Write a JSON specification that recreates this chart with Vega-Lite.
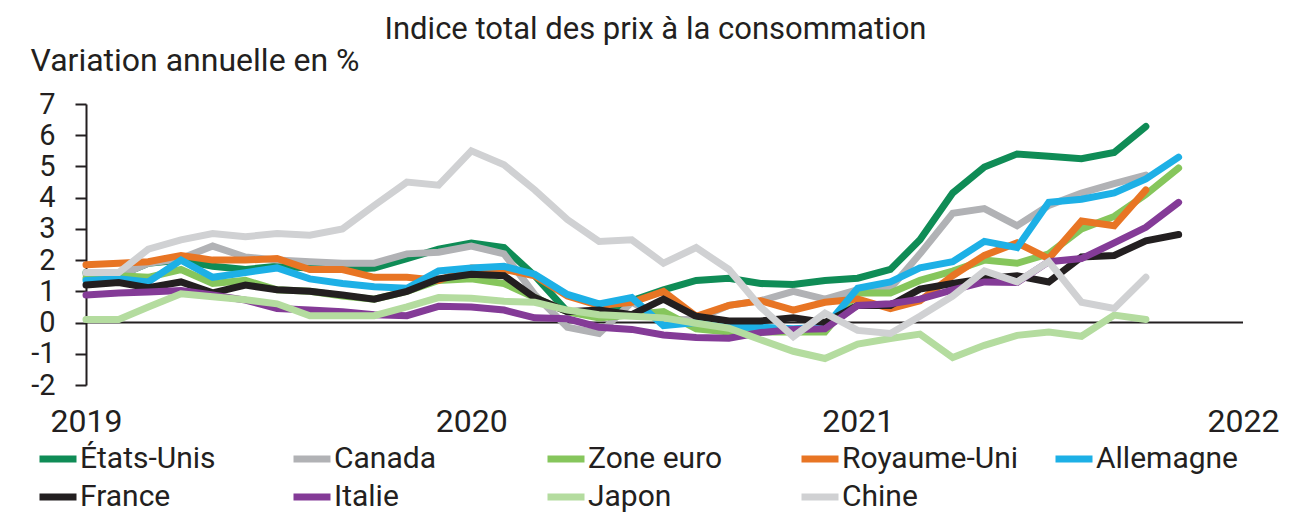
{
"$schema": "https://vega.github.io/schema/vega-lite/v6.json",
"width": 1157, "height": 281,
"autosize": {"type": "none"},
"padding": {"left": 86, "top": 104, "right": 55, "bottom": 127},
"background": "white",
"config": {"view": {"stroke": null}, "font": "Roboto, Liberation Sans, sans-serif"},
"title": {"text": "Indice total des prix à la consommation", "anchor": "middle", "frame": "group", "fontSize": 31, "fontWeight": "normal", "color": "#231f20", "dx": -9, "dy": 2, "offset": 0},
"datasets": {"cpi": [
{"d":"2019-01","c":"États-Unis","v":1.6},{"d":"2019-02","c":"États-Unis","v":1.5},{"d":"2019-03","c":"États-Unis","v":1.9},{"d":"2019-04","c":"États-Unis","v":2.0},{"d":"2019-05","c":"États-Unis","v":1.8},{"d":"2019-06","c":"États-Unis","v":1.7},{"d":"2019-07","c":"États-Unis","v":1.8},{"d":"2019-08","c":"États-Unis","v":1.75},{"d":"2019-09","c":"États-Unis","v":1.7},{"d":"2019-10","c":"États-Unis","v":1.75},{"d":"2019-11","c":"États-Unis","v":2.05},{"d":"2019-12","c":"États-Unis","v":2.35},{"d":"2020-01","c":"États-Unis","v":2.55},{"d":"2020-02","c":"États-Unis","v":2.4},{"d":"2020-03","c":"États-Unis","v":1.5},{"d":"2020-04","c":"États-Unis","v":0.35},{"d":"2020-05","c":"États-Unis","v":0.2},{"d":"2020-06","c":"États-Unis","v":0.7},{"d":"2020-07","c":"États-Unis","v":1.05},{"d":"2020-08","c":"États-Unis","v":1.35},{"d":"2020-09","c":"États-Unis","v":1.42},{"d":"2020-10","c":"États-Unis","v":1.25},{"d":"2020-11","c":"États-Unis","v":1.22},{"d":"2020-12","c":"États-Unis","v":1.35},{"d":"2021-01","c":"États-Unis","v":1.42},{"d":"2021-02","c":"États-Unis","v":1.7},{"d":"2021-03","c":"États-Unis","v":2.65},{"d":"2021-04","c":"États-Unis","v":4.15},{"d":"2021-05","c":"États-Unis","v":4.98},{"d":"2021-06","c":"États-Unis","v":5.4},{"d":"2021-07","c":"États-Unis","v":5.33},{"d":"2021-08","c":"États-Unis","v":5.25},{"d":"2021-09","c":"États-Unis","v":5.45},{"d":"2021-10","c":"États-Unis","v":6.28},
{"d":"2019-01","c":"Canada","v":1.55},{"d":"2019-02","c":"Canada","v":1.5},{"d":"2019-03","c":"Canada","v":1.9},{"d":"2019-04","c":"Canada","v":2.05},{"d":"2019-05","c":"Canada","v":2.45},{"d":"2019-06","c":"Canada","v":2.1},{"d":"2019-07","c":"Canada","v":2.0},{"d":"2019-08","c":"Canada","v":1.95},{"d":"2019-09","c":"Canada","v":1.9},{"d":"2019-10","c":"Canada","v":1.9},{"d":"2019-11","c":"Canada","v":2.2},{"d":"2019-12","c":"Canada","v":2.25},{"d":"2020-01","c":"Canada","v":2.45},{"d":"2020-02","c":"Canada","v":2.2},{"d":"2020-03","c":"Canada","v":0.9},{"d":"2020-04","c":"Canada","v":-0.15},{"d":"2020-05","c":"Canada","v":-0.35},{"d":"2020-06","c":"Canada","v":0.65},{"d":"2020-07","c":"Canada","v":0.1},{"d":"2020-08","c":"Canada","v":0.1},{"d":"2020-09","c":"Canada","v":0.55},{"d":"2020-10","c":"Canada","v":0.7},{"d":"2020-11","c":"Canada","v":1.0},{"d":"2020-12","c":"Canada","v":0.75},{"d":"2021-01","c":"Canada","v":1.05},{"d":"2021-02","c":"Canada","v":1.1},{"d":"2021-03","c":"Canada","v":2.2},{"d":"2021-04","c":"Canada","v":3.5},{"d":"2021-05","c":"Canada","v":3.65},{"d":"2021-06","c":"Canada","v":3.1},{"d":"2021-07","c":"Canada","v":3.75},{"d":"2021-08","c":"Canada","v":4.15},{"d":"2021-09","c":"Canada","v":4.45},{"d":"2021-10","c":"Canada","v":4.72},
{"d":"2019-01","c":"Zone euro","v":1.42},{"d":"2019-02","c":"Zone euro","v":1.5},{"d":"2019-03","c":"Zone euro","v":1.45},{"d":"2019-04","c":"Zone euro","v":1.7},{"d":"2019-05","c":"Zone euro","v":1.25},{"d":"2019-06","c":"Zone euro","v":1.35},{"d":"2019-07","c":"Zone euro","v":1.05},{"d":"2019-08","c":"Zone euro","v":1.0},{"d":"2019-09","c":"Zone euro","v":0.85},{"d":"2019-10","c":"Zone euro","v":0.75},{"d":"2019-11","c":"Zone euro","v":1.0},{"d":"2019-12","c":"Zone euro","v":1.35},{"d":"2020-01","c":"Zone euro","v":1.4},{"d":"2020-02","c":"Zone euro","v":1.25},{"d":"2020-03","c":"Zone euro","v":0.8},{"d":"2020-04","c":"Zone euro","v":0.35},{"d":"2020-05","c":"Zone euro","v":0.15},{"d":"2020-06","c":"Zone euro","v":0.25},{"d":"2020-07","c":"Zone euro","v":0.35},{"d":"2020-08","c":"Zone euro","v":-0.2},{"d":"2020-09","c":"Zone euro","v":-0.3},{"d":"2020-10","c":"Zone euro","v":-0.3},{"d":"2020-11","c":"Zone euro","v":-0.3},{"d":"2020-12","c":"Zone euro","v":-0.3},{"d":"2021-01","c":"Zone euro","v":0.95},{"d":"2021-02","c":"Zone euro","v":0.95},{"d":"2021-03","c":"Zone euro","v":1.35},{"d":"2021-04","c":"Zone euro","v":1.65},{"d":"2021-05","c":"Zone euro","v":2.0},{"d":"2021-06","c":"Zone euro","v":1.9},{"d":"2021-07","c":"Zone euro","v":2.2},{"d":"2021-08","c":"Zone euro","v":3.0},{"d":"2021-09","c":"Zone euro","v":3.4},{"d":"2021-10","c":"Zone euro","v":4.1},{"d":"2021-11","c":"Zone euro","v":4.95},
{"d":"2019-01","c":"Royaume-Uni","v":1.85},{"d":"2019-02","c":"Royaume-Uni","v":1.9},{"d":"2019-03","c":"Royaume-Uni","v":1.95},{"d":"2019-04","c":"Royaume-Uni","v":2.15},{"d":"2019-05","c":"Royaume-Uni","v":2.0},{"d":"2019-06","c":"Royaume-Uni","v":2.0},{"d":"2019-07","c":"Royaume-Uni","v":2.05},{"d":"2019-08","c":"Royaume-Uni","v":1.7},{"d":"2019-09","c":"Royaume-Uni","v":1.7},{"d":"2019-10","c":"Royaume-Uni","v":1.45},{"d":"2019-11","c":"Royaume-Uni","v":1.45},{"d":"2019-12","c":"Royaume-Uni","v":1.35},{"d":"2020-01","c":"Royaume-Uni","v":1.75},{"d":"2020-02","c":"Royaume-Uni","v":1.7},{"d":"2020-03","c":"Royaume-Uni","v":1.5},{"d":"2020-04","c":"Royaume-Uni","v":0.85},{"d":"2020-05","c":"Royaume-Uni","v":0.55},{"d":"2020-06","c":"Royaume-Uni","v":0.65},{"d":"2020-07","c":"Royaume-Uni","v":1.0},{"d":"2020-08","c":"Royaume-Uni","v":0.2},{"d":"2020-09","c":"Royaume-Uni","v":0.55},{"d":"2020-10","c":"Royaume-Uni","v":0.7},{"d":"2020-11","c":"Royaume-Uni","v":0.4},{"d":"2020-12","c":"Royaume-Uni","v":0.65},{"d":"2021-01","c":"Royaume-Uni","v":0.75},{"d":"2021-02","c":"Royaume-Uni","v":0.45},{"d":"2021-03","c":"Royaume-Uni","v":0.7},{"d":"2021-04","c":"Royaume-Uni","v":1.5},{"d":"2021-05","c":"Royaume-Uni","v":2.15},{"d":"2021-06","c":"Royaume-Uni","v":2.55},{"d":"2021-07","c":"Royaume-Uni","v":2.05},{"d":"2021-08","c":"Royaume-Uni","v":3.25},{"d":"2021-09","c":"Royaume-Uni","v":3.1},{"d":"2021-10","c":"Royaume-Uni","v":4.25},
{"d":"2019-01","c":"Allemagne","v":1.35},{"d":"2019-02","c":"Allemagne","v":1.4},{"d":"2019-03","c":"Allemagne","v":1.3},{"d":"2019-04","c":"Allemagne","v":2.0},{"d":"2019-05","c":"Allemagne","v":1.45},{"d":"2019-06","c":"Allemagne","v":1.6},{"d":"2019-07","c":"Allemagne","v":1.75},{"d":"2019-08","c":"Allemagne","v":1.4},{"d":"2019-09","c":"Allemagne","v":1.25},{"d":"2019-10","c":"Allemagne","v":1.15},{"d":"2019-11","c":"Allemagne","v":1.1},{"d":"2019-12","c":"Allemagne","v":1.65},{"d":"2020-01","c":"Allemagne","v":1.75},{"d":"2020-02","c":"Allemagne","v":1.8},{"d":"2020-03","c":"Allemagne","v":1.55},{"d":"2020-04","c":"Allemagne","v":0.9},{"d":"2020-05","c":"Allemagne","v":0.6},{"d":"2020-06","c":"Allemagne","v":0.8},{"d":"2020-07","c":"Allemagne","v":-0.1},{"d":"2020-08","c":"Allemagne","v":0.0},{"d":"2020-09","c":"Allemagne","v":-0.15},{"d":"2020-10","c":"Allemagne","v":-0.15},{"d":"2020-11","c":"Allemagne","v":-0.2},{"d":"2020-12","c":"Allemagne","v":-0.15},{"d":"2021-01","c":"Allemagne","v":1.1},{"d":"2021-02","c":"Allemagne","v":1.3},{"d":"2021-03","c":"Allemagne","v":1.75},{"d":"2021-04","c":"Allemagne","v":1.95},{"d":"2021-05","c":"Allemagne","v":2.6},{"d":"2021-06","c":"Allemagne","v":2.4},{"d":"2021-07","c":"Allemagne","v":3.85},{"d":"2021-08","c":"Allemagne","v":3.95},{"d":"2021-09","c":"Allemagne","v":4.15},{"d":"2021-10","c":"Allemagne","v":4.6},{"d":"2021-11","c":"Allemagne","v":5.3},
{"d":"2019-01","c":"France","v":1.2},{"d":"2019-02","c":"France","v":1.28},{"d":"2019-03","c":"France","v":1.12},{"d":"2019-04","c":"France","v":1.3},{"d":"2019-05","c":"France","v":0.95},{"d":"2019-06","c":"France","v":1.2},{"d":"2019-07","c":"France","v":1.05},{"d":"2019-08","c":"France","v":1.0},{"d":"2019-09","c":"France","v":0.88},{"d":"2019-10","c":"France","v":0.75},{"d":"2019-11","c":"France","v":1.0},{"d":"2019-12","c":"France","v":1.4},{"d":"2020-01","c":"France","v":1.55},{"d":"2020-02","c":"France","v":1.5},{"d":"2020-03","c":"France","v":0.8},{"d":"2020-04","c":"France","v":0.35},{"d":"2020-05","c":"France","v":0.4},{"d":"2020-06","c":"France","v":0.25},{"d":"2020-07","c":"France","v":0.75},{"d":"2020-08","c":"France","v":0.2},{"d":"2020-09","c":"France","v":0.05},{"d":"2020-10","c":"France","v":0.05},{"d":"2020-11","c":"France","v":0.15},{"d":"2020-12","c":"France","v":0.0},{"d":"2021-01","c":"France","v":0.55},{"d":"2021-02","c":"France","v":0.55},{"d":"2021-03","c":"France","v":1.07},{"d":"2021-04","c":"France","v":1.25},{"d":"2021-05","c":"France","v":1.4},{"d":"2021-06","c":"France","v":1.5},{"d":"2021-07","c":"France","v":1.3},{"d":"2021-08","c":"France","v":2.1},{"d":"2021-09","c":"France","v":2.15},{"d":"2021-10","c":"France","v":2.62},{"d":"2021-11","c":"France","v":2.82},
{"d":"2019-01","c":"Italie","v":0.88},{"d":"2019-02","c":"Italie","v":0.95},{"d":"2019-03","c":"Italie","v":0.98},{"d":"2019-04","c":"Italie","v":1.03},{"d":"2019-05","c":"Italie","v":0.88},{"d":"2019-06","c":"Italie","v":0.72},{"d":"2019-07","c":"Italie","v":0.45},{"d":"2019-08","c":"Italie","v":0.4},{"d":"2019-09","c":"Italie","v":0.35},{"d":"2019-10","c":"Italie","v":0.25},{"d":"2019-11","c":"Italie","v":0.22},{"d":"2019-12","c":"Italie","v":0.52},{"d":"2020-01","c":"Italie","v":0.5},{"d":"2020-02","c":"Italie","v":0.4},{"d":"2020-03","c":"Italie","v":0.15},{"d":"2020-04","c":"Italie","v":0.12},{"d":"2020-05","c":"Italie","v":-0.15},{"d":"2020-06","c":"Italie","v":-0.22},{"d":"2020-07","c":"Italie","v":-0.4},{"d":"2020-08","c":"Italie","v":-0.48},{"d":"2020-09","c":"Italie","v":-0.5},{"d":"2020-10","c":"Italie","v":-0.32},{"d":"2020-11","c":"Italie","v":-0.22},{"d":"2020-12","c":"Italie","v":-0.2},{"d":"2021-01","c":"Italie","v":0.55},{"d":"2021-02","c":"Italie","v":0.6},{"d":"2021-03","c":"Italie","v":0.75},{"d":"2021-04","c":"Italie","v":1.05},{"d":"2021-05","c":"Italie","v":1.3},{"d":"2021-06","c":"Italie","v":1.28},{"d":"2021-07","c":"Italie","v":1.95},{"d":"2021-08","c":"Italie","v":2.05},{"d":"2021-09","c":"Italie","v":2.55},{"d":"2021-10","c":"Italie","v":3.05},{"d":"2021-11","c":"Italie","v":3.85},
{"d":"2019-01","c":"Japon","v":0.1},{"d":"2019-02","c":"Japon","v":0.1},{"d":"2019-03","c":"Japon","v":0.5},{"d":"2019-04","c":"Japon","v":0.92},{"d":"2019-05","c":"Japon","v":0.83},{"d":"2019-06","c":"Japon","v":0.73},{"d":"2019-07","c":"Japon","v":0.6},{"d":"2019-08","c":"Japon","v":0.22},{"d":"2019-09","c":"Japon","v":0.22},{"d":"2019-10","c":"Japon","v":0.22},{"d":"2019-11","c":"Japon","v":0.5},{"d":"2019-12","c":"Japon","v":0.8},{"d":"2020-01","c":"Japon","v":0.78},{"d":"2020-02","c":"Japon","v":0.68},{"d":"2020-03","c":"Japon","v":0.65},{"d":"2020-04","c":"Japon","v":0.4},{"d":"2020-05","c":"Japon","v":0.25},{"d":"2020-06","c":"Japon","v":0.2},{"d":"2020-07","c":"Japon","v":0.15},{"d":"2020-08","c":"Japon","v":-0.02},{"d":"2020-09","c":"Japon","v":-0.18},{"d":"2020-10","c":"Japon","v":-0.55},{"d":"2020-11","c":"Japon","v":-0.92},{"d":"2020-12","c":"Japon","v":-1.15},{"d":"2021-01","c":"Japon","v":-0.69},{"d":"2021-02","c":"Japon","v":-0.51},{"d":"2021-03","c":"Japon","v":-0.37},{"d":"2021-04","c":"Japon","v":-1.12},{"d":"2021-05","c":"Japon","v":-0.73},{"d":"2021-06","c":"Japon","v":-0.41},{"d":"2021-07","c":"Japon","v":-0.3},{"d":"2021-08","c":"Japon","v":-0.44},{"d":"2021-09","c":"Japon","v":0.24},{"d":"2021-10","c":"Japon","v":0.1},
{"d":"2019-01","c":"Chine","v":1.6},{"d":"2019-02","c":"Chine","v":1.6},{"d":"2019-03","c":"Chine","v":2.35},{"d":"2019-04","c":"Chine","v":2.65},{"d":"2019-05","c":"Chine","v":2.85},{"d":"2019-06","c":"Chine","v":2.75},{"d":"2019-07","c":"Chine","v":2.85},{"d":"2019-08","c":"Chine","v":2.8},{"d":"2019-09","c":"Chine","v":3.0},{"d":"2019-10","c":"Chine","v":3.75},{"d":"2019-11","c":"Chine","v":4.5},{"d":"2019-12","c":"Chine","v":4.4},{"d":"2020-01","c":"Chine","v":5.5},{"d":"2020-02","c":"Chine","v":5.05},{"d":"2020-03","c":"Chine","v":4.25},{"d":"2020-04","c":"Chine","v":3.3},{"d":"2020-05","c":"Chine","v":2.6},{"d":"2020-06","c":"Chine","v":2.65},{"d":"2020-07","c":"Chine","v":1.9},{"d":"2020-08","c":"Chine","v":2.4},{"d":"2020-09","c":"Chine","v":1.7},{"d":"2020-10","c":"Chine","v":0.5},{"d":"2020-11","c":"Chine","v":-0.45},{"d":"2020-12","c":"Chine","v":0.3},{"d":"2021-01","c":"Chine","v":-0.25},{"d":"2021-02","c":"Chine","v":-0.35},{"d":"2021-03","c":"Chine","v":0.2},{"d":"2021-04","c":"Chine","v":0.85},{"d":"2021-05","c":"Chine","v":1.65},{"d":"2021-06","c":"Chine","v":1.3},{"d":"2021-07","c":"Chine","v":1.95},{"d":"2021-08","c":"Chine","v":0.65},{"d":"2021-09","c":"Chine","v":0.45},{"d":"2021-10","c":"Chine","v":1.45}
]},
"layer": [
{"data": {"values": [{}]},
 "mark": {"type": "rule", "color": "#231f20", "strokeWidth": 2},
 "encoding": {"y": {"datum": 0, "type": "quantitative",
        "scale": {"domain": [-2, 7], "nice": false, "zero": false},
        "axis": {"values": [-2, -1, 0, 1, 2, 3, 4, 5, 6, 7], "labelExpr": "'' + datum.value", "grid": false, "title": "Variation annuelle en %",
                 "titleAngle": 0, "titleX": -56, "titleY": -34, "titleAlign": "left", "titleBaseline": "alphabetic",
                 "titleFontSize": 32, "titleFontWeight": "normal", "titleColor": "#231f20",
                 "labelFontSize": 29, "labelColor": "#231f20", "labelPadding": 20, "labelOverlap": false, "labelBound": false, "labelFlush": false,
                 "tickSize": 11, "tickWidth": 2, "tickColor": "#231f20", "domainWidth": 2, "domainColor": "#231f20"}}}},
{"data": {"name": "cpi"},
 "mark": {"type": "line", "strokeCap": "round", "strokeJoin": "miter"},
 "encoding": {
  "x": {"field": "d", "type": "temporal", "title": null,
        "scale": {"type": "utc", "domain": [{"year": 2019, "month": 1, "date": 1, "utc": true}, {"year": 2022, "month": 1, "date": 1, "utc": true}]},
        "axis": {"values": [{"year": 2019, "month": 1, "date": 1, "utc": true}, {"year": 2020, "month": 1, "date": 1, "utc": true}, {"year": 2021, "month": 1, "date": 1, "utc": true}, {"year": 2022, "month": 1, "date": 1, "utc": true}],
                 "format": "%Y", "domain": false, "ticks": false, "grid": false, "labelFontSize": 32, "labelColor": "#231f20", "labelPadding": 21, "labelFlush": false, "labelOverlap": false, "labelBound": false}},
  "y": {"field": "v", "type": "quantitative",
        "scale": {"domain": [-2, 7], "nice": false, "zero": false},
        "axis": {"values": [-2, -1, 0, 1, 2, 3, 4, 5, 6, 7], "labelExpr": "'' + datum.value", "grid": false, "title": "Variation annuelle en %",
                 "titleAngle": 0, "titleX": -56, "titleY": -34, "titleAlign": "left", "titleBaseline": "alphabetic",
                 "titleFontSize": 32, "titleFontWeight": "normal", "titleColor": "#231f20",
                 "labelFontSize": 29, "labelColor": "#231f20", "labelPadding": 20, "labelOverlap": false, "labelBound": false, "labelFlush": false,
                 "tickSize": 11, "tickWidth": 2, "tickColor": "#231f20", "domainWidth": 2, "domainColor": "#231f20"}},
  "color": {"field": "c", "type": "nominal", "title": null,
            "scale": {"domain": ["États-Unis", "Canada", "Zone euro", "Royaume-Uni", "Allemagne", "France", "Italie", "Japon", "Chine"],
                      "range": ["#0f8c56", "#b1b2b5", "#86c65c", "#e87524", "#1db0e6", "#231f20", "#843b97", "#b4dc9f", "#d0d1d3"]},
            "legend": {"orient": "none", "legendX": -50, "legendY": 333, "direction": "horizontal", "columns": 5,
                       "symbolType": "stroke", "symbolSize": 1369, "symbolStrokeWidth": 7,
                       "labelFontSize": 30, "labelColor": "#231f20", "labelOffset": 0, "labelLimit": 400,
                       "columnPadding": 22, "rowPadding": 1, "gridAlign": "all"}},
  "strokeWidth": {"field": "c", "type": "nominal", "title": null,
            "scale": {"domain": ["États-Unis", "Canada", "Zone euro", "Royaume-Uni", "Allemagne", "France", "Italie", "Japon", "Chine"],
                      "range": [7, 7, 6, 5.5, 6, 5, 4.5, 4, 4]}}
 }}
]
}
